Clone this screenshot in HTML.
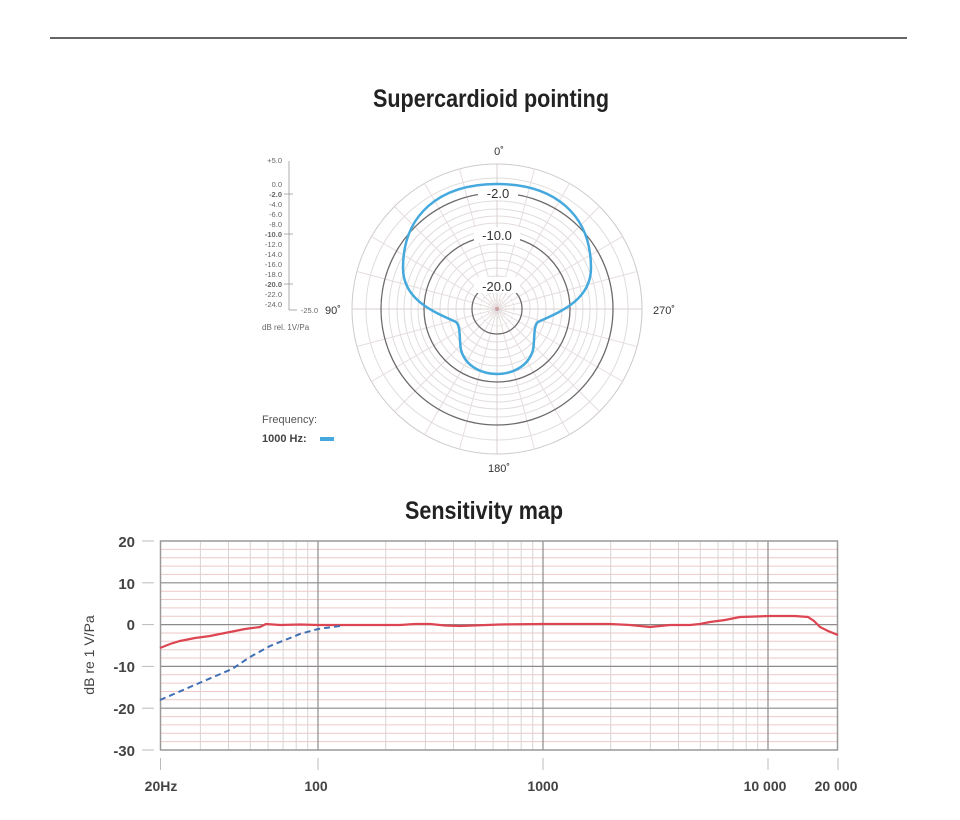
<!DOCTYPE html>
<html><head><meta charset="utf-8"><style>
html,body{margin:0;padding:0;background:#fff;}
svg{display:block;font-family:"Liberation Sans",sans-serif;}
</style></head><body>
<svg width="960" height="820" viewBox="0 0 960 820" xmlns="http://www.w3.org/2000/svg">
<line x1="50" y1="38" x2="907" y2="38" stroke="#333" stroke-width="1.5"/>
<text x="491" y="107" text-anchor="middle" font-size="25" font-weight="bold" fill="#222" textLength="236" lengthAdjust="spacingAndGlyphs">Supercardioid pointing</text>
<text x="484" y="519" text-anchor="middle" font-size="25" font-weight="bold" fill="#222" textLength="158" lengthAdjust="spacingAndGlyphs">Sensitivity map</text>

<!-- polar grid -->
<g fill="none" stroke="#e2dcdc" stroke-width="1">
<circle cx="497" cy="309" r="145" stroke="#cfcaca"/>
<circle cx="497" cy="309" r="131"/>
<circle cx="497" cy="309" r="108"/><circle cx="497" cy="309" r="100"/>
<circle cx="497" cy="309" r="93"/><circle cx="497" cy="309" r="86"/>
<circle cx="497" cy="309" r="79"/><circle cx="497" cy="309" r="65"/>
<circle cx="497" cy="309" r="57"/><circle cx="497" cy="309" r="49"/>
<circle cx="497" cy="309" r="41"/><circle cx="497" cy="309" r="33"/>
<circle cx="497" cy="309" r="17" stroke-dasharray="2,2"/><circle cx="497" cy="309" r="9" stroke-dasharray="2,2"/>
</g>
<g stroke="#e6dede" stroke-width="1">
<line x1="497" y1="164" x2="497" y2="454" stroke="#d8d0d0"/>
<line x1="352" y1="309" x2="642" y2="309" stroke="#d8d0d0"/>
<line x1="534.5" y1="169" x2="459.5" y2="449"/><line x1="569.5" y1="183.4" x2="424.5" y2="434.6"/>
<line x1="599.5" y1="206.5" x2="394.5" y2="411.5"/><line x1="622.6" y1="236.5" x2="371.4" y2="381.5"/>
<line x1="637" y1="271.5" x2="357" y2="346.5"/>
<line x1="459.5" y1="169" x2="534.5" y2="449"/><line x1="424.5" y1="183.4" x2="569.5" y2="434.6"/>
<line x1="394.5" y1="206.5" x2="599.5" y2="411.5"/><line x1="371.4" y1="236.5" x2="622.6" y2="381.5"/>
<line x1="357" y1="271.5" x2="637" y2="346.5"/>
</g>
<g fill="none" stroke="#6e6a6a" stroke-width="1.3">
<circle cx="497" cy="309" r="116"/><circle cx="497" cy="309" r="73"/><circle cx="497" cy="309" r="25"/>
</g>
<g font-size="13" fill="#333" text-anchor="middle">
<rect x="478" y="184" width="40" height="16" fill="#fff"/><text x="498" y="198">-2.0</text>
<rect x="474" y="227" width="46" height="16" fill="#fff"/><text x="497" y="240">-10.0</text>
<rect x="474" y="277" width="46" height="16" fill="#fff"/><text x="497" y="291">-20.0</text>
<text x="499" y="155" font-size="11">0˚</text>
<text x="499" y="472" font-size="11">180˚</text>
<text x="333" y="314" font-size="11">90˚</text>
<text x="664" y="314" font-size="11">270˚</text>
</g>
<circle cx="497" cy="309" r="2" fill="#c9a0a0"/>
<path d="M497,184 C555,184 591,215 591,268 C591,300 560,312 538,322 C533,326 535,340 533,350 C528,368 510,374 497,374 C484,374 466,368 461,350 C459,340 461,326 456,322 C434,312 403,300 403,268 C403,215 439,184 497,184 Z" fill="none" stroke="#45a9de" stroke-width="2.5"/>

<!-- polar scale -->
<g font-size="7.5" fill="#666" text-anchor="end">
<text x="282" y="163">+5.0</text>
<text x="282" y="187">0.0</text>
<text x="282" y="197" font-weight="bold">-2.0</text>
<text x="282" y="207">-4.0</text><text x="282" y="217">-6.0</text><text x="282" y="227">-8.0</text>
<text x="282" y="237" font-weight="bold">-10.0</text>
<text x="282" y="247">-12.0</text><text x="282" y="257">-14.0</text><text x="282" y="267">-16.0</text><text x="282" y="277">-18.0</text>
<text x="282" y="287" font-weight="bold">-20.0</text>
<text x="282" y="297">-22.0</text><text x="282" y="307">-24.0</text>
<text x="318" y="313">-25.0</text>
</g>
<g stroke="#999" stroke-width="0.8">
<line x1="289" y1="161" x2="289" y2="310"/><line x1="289" y1="310" x2="297" y2="310"/>
<line x1="284" y1="194" x2="293" y2="194"/><line x1="284" y1="234" x2="293" y2="234"/><line x1="284" y1="284" x2="293" y2="284"/>
</g>
<text x="262" y="330" font-size="8" fill="#666">dB rel. 1V/Pa</text>
<text x="262" y="423" font-size="11" fill="#555">Frequency:</text>
<text x="262" y="442" font-size="11" fill="#444" font-weight="bold">1000 Hz:</text>
<rect x="320" y="437" width="14" height="4" fill="#45a9de"/>

<!-- frequency chart grid -->
<g stroke="#eec9c9" stroke-width="1">
<line x1="160" y1="549.4" x2="837" y2="549.4"/><line x1="160" y1="557.7" x2="837" y2="557.7"/>
<line x1="160" y1="566.1" x2="837" y2="566.1"/><line x1="160" y1="574.4" x2="837" y2="574.4"/>
<line x1="160" y1="591.2" x2="837" y2="591.2"/><line x1="160" y1="599.5" x2="837" y2="599.5"/>
<line x1="160" y1="607.9" x2="837" y2="607.9"/><line x1="160" y1="616.2" x2="837" y2="616.2"/>
<line x1="160" y1="633" x2="837" y2="633"/><line x1="160" y1="641.3" x2="837" y2="641.3"/>
<line x1="160" y1="649.7" x2="837" y2="649.7"/><line x1="160" y1="658" x2="837" y2="658"/>
<line x1="160" y1="674.8" x2="837" y2="674.8"/><line x1="160" y1="683.1" x2="837" y2="683.1"/>
<line x1="160" y1="691.5" x2="837" y2="691.5"/><line x1="160" y1="699.8" x2="837" y2="699.8"/>
<line x1="160" y1="716.6" x2="837" y2="716.6"/><line x1="160" y1="724.9" x2="837" y2="724.9"/>
<line x1="160" y1="733.3" x2="837" y2="733.3"/><line x1="160" y1="741.6" x2="837" y2="741.6"/>
</g>
<g stroke="#d8d4d4" stroke-width="1">
<line x1="200.4" y1="541" x2="200.4" y2="750"/><line x1="228.5" y1="541" x2="228.5" y2="750"/>
<line x1="250.3" y1="541" x2="250.3" y2="750"/><line x1="268.1" y1="541" x2="268.1" y2="750"/>
<line x1="283.1" y1="541" x2="283.1" y2="750"/><line x1="296.2" y1="541" x2="296.2" y2="750"/>
<line x1="307.7" y1="541" x2="307.7" y2="750"/>
<line x1="385.7" y1="541" x2="385.7" y2="750"/><line x1="425.4" y1="541" x2="425.4" y2="750"/>
<line x1="453.5" y1="541" x2="453.5" y2="750"/><line x1="475.3" y1="541" x2="475.3" y2="750"/>
<line x1="493.1" y1="541" x2="493.1" y2="750"/><line x1="508.1" y1="541" x2="508.1" y2="750"/>
<line x1="521.2" y1="541" x2="521.2" y2="750"/><line x1="532.7" y1="541" x2="532.7" y2="750"/>
<line x1="610.7" y1="541" x2="610.7" y2="750"/><line x1="650.4" y1="541" x2="650.4" y2="750"/>
<line x1="678.5" y1="541" x2="678.5" y2="750"/><line x1="700.3" y1="541" x2="700.3" y2="750"/>
<line x1="718.1" y1="541" x2="718.1" y2="750"/><line x1="733.1" y1="541" x2="733.1" y2="750"/>
<line x1="746.2" y1="541" x2="746.2" y2="750"/><line x1="757.7" y1="541" x2="757.7" y2="750"/>
</g>
<g stroke="#8e8a8a" stroke-width="1.2">
<line x1="160" y1="582.8" x2="837" y2="582.8"/><line x1="160" y1="624.6" x2="837" y2="624.6"/>
<line x1="160" y1="666.4" x2="837" y2="666.4"/><line x1="160" y1="708.2" x2="837" y2="708.2"/>
<line x1="318" y1="541" x2="318" y2="750"/><line x1="543" y1="541" x2="543" y2="750"/><line x1="768" y1="541" x2="768" y2="750"/>
</g>
<rect x="160.5" y="541" width="677" height="209" fill="none" stroke="#999" stroke-width="1.5"/>
<g stroke="#bbb" stroke-width="1">
<line x1="142" y1="541" x2="154" y2="541"/><line x1="142" y1="582.8" x2="154" y2="582.8"/>
<line x1="142" y1="624.6" x2="154" y2="624.6"/><line x1="142" y1="666.4" x2="154" y2="666.4"/>
<line x1="142" y1="708.2" x2="154" y2="708.2"/><line x1="142" y1="750" x2="154" y2="750"/>
<line x1="160.5" y1="758" x2="160.5" y2="770"/><line x1="318" y1="758" x2="318" y2="770"/>
<line x1="543" y1="758" x2="543" y2="770"/><line x1="768" y1="758" x2="768" y2="770"/><line x1="838" y1="758" x2="838" y2="770"/>
</g>
<g font-size="15" fill="#444" text-anchor="end" font-weight="bold">
<text x="135" y="547">20</text><text x="135" y="589">10</text><text x="135" y="630">0</text>
<text x="135" y="672">-10</text><text x="135" y="714">-20</text><text x="135" y="756">-30</text>
</g>
<text transform="translate(94,655) rotate(-90)" text-anchor="middle" font-size="14" fill="#444">dB re 1 V/Pa</text>
<g font-size="14" fill="#444" text-anchor="middle" font-weight="bold">
<text x="161" y="791">20Hz</text><text x="316" y="791">100</text><text x="543" y="791">1000</text>
<text x="765" y="791">10 000</text><text x="836" y="791">20 000</text>
</g>
<polyline points="160,648 170,644 180,641 195,638 210,636 230,632 245,629 260,627 266,624 280,625 300,624.5 318,625 360,625 400,625 415,624 430,624 445,625.5 460,626 500,624.5 543,624 580,624 610,624 630,625 650,627 670,625 690,625 700,624 710,622 725,620 740,617 770,616 795,616 808,617 814,621 820,627 828,631 838,635" fill="none" stroke="#dc4552" stroke-width="2.2"/>
<polyline points="160,700 190,687 232,669 250,657 270,646 300,634 318,629 340,626" fill="none" stroke="#3f6fb5" stroke-width="2" stroke-dasharray="6,4"/>
</svg>
</body></html>
